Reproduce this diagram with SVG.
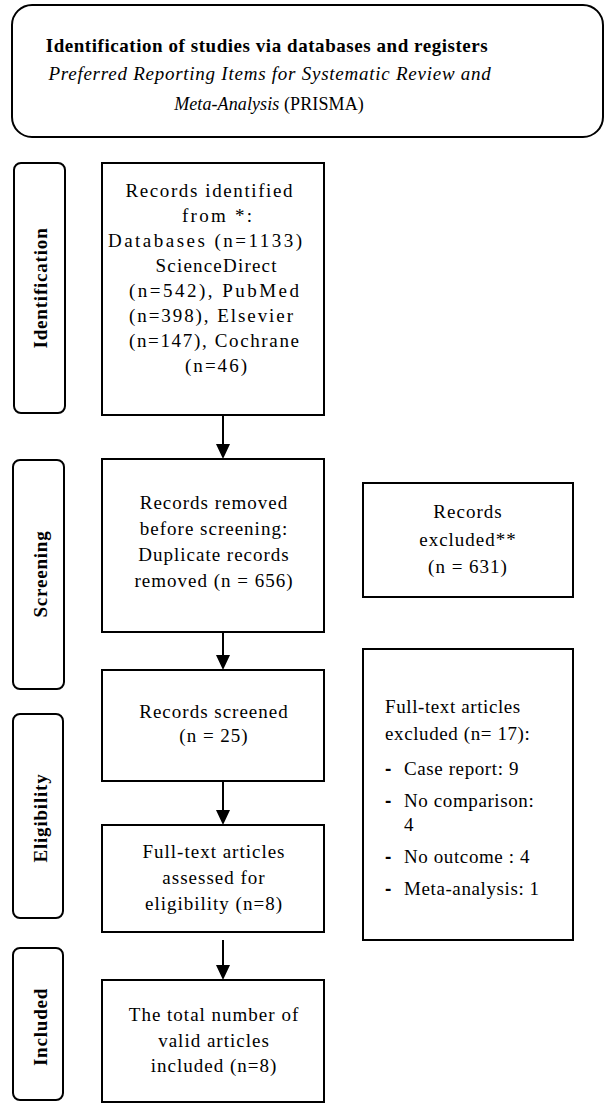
<svg xmlns="http://www.w3.org/2000/svg" width="604" height="1104" viewBox="0 0 604 1104">
<style>
.box{fill:#fff;stroke:#000;stroke-width:2}
.lbl{fill:#fff;stroke:#000;stroke-width:2}
.t{font-family:"Liberation Serif","Times New Roman",serif;font-size:19px;fill:#000;text-anchor:middle;letter-spacing:1px}
.tf{font-family:"Liberation Serif","Times New Roman",serif;font-size:19px;fill:#000;text-anchor:middle;letter-spacing:0px}
.tl{font-family:"Liberation Serif","Times New Roman",serif;font-size:19px;fill:#000;letter-spacing:0.6px}
.dash{font-family:"Liberation Sans",Arial,sans-serif;font-size:19px;font-weight:bold;fill:#000}
.side{font-family:"Liberation Serif","Times New Roman",serif;font-size:19px;font-weight:bold;fill:#000;text-anchor:middle;letter-spacing:0.8px}
.conn line{stroke:#000;stroke-width:2}
.conn polygon{fill:#000}
</style>
<rect width="604" height="1104" fill="#fff"/>

<g id="title">
<rect class="box" x="12" y="5" width="591" height="132" rx="20"/>
<text class="t" x="267" y="52" style="font-weight:bold;letter-spacing:0.55px">Identification of studies via databases and registers</text>
<text class="t" x="270" y="80" style="font-style:italic;letter-spacing:0.75px">Preferred Reporting Items for Systematic Review and</text>
<text class="tf" x="269" y="110" style="font-size:18px;letter-spacing:0.1px"><tspan font-style="italic">Meta-Analysis</tspan> (PRISMA)</text>
</g>

<g id="label-identification">
<rect class="lbl" x="14" y="163" width="51" height="250" rx="7"/>
<text class="side" transform="translate(47,288) rotate(-90)">Identification</text>
</g>
<g id="label-screening">
<rect class="lbl" x="13" y="460" width="51" height="229" rx="7"/>
<text class="side" transform="translate(47,574) rotate(-90)">Screening</text>
</g>
<g id="label-eligibility">
<rect class="lbl" x="13" y="714" width="50" height="204" rx="7"/>
<text class="side" transform="translate(47,818) rotate(-90)">Eligibility</text>
</g>
<g id="label-included">
<rect class="lbl" x="13" y="948" width="50" height="152" rx="7"/>
<text class="side" transform="translate(47,1027) rotate(-90)">Included</text>
</g>

<g id="node-identified">
<rect class="box" x="102" y="163" width="222" height="252"/>
<text class="tf" x="209" y="197" textLength="167">Records identified</text>
<text class="tf" x="217" y="222" textLength="70">from *:</text>
<text class="tf" x="205" y="247" textLength="194">Databases (n=1133)</text>
<text class="tf" x="216" y="272" textLength="121">ScienceDirect</text>
<text class="tf" x="214" y="297" textLength="170">(n=542), PubMed</text>
<text class="tf" x="211" y="322" textLength="164">(n=398), Elsevier</text>
<text class="tf" x="214" y="347" textLength="170">(n=147), Cochrane</text>
<text class="tf" x="216" y="372" textLength="62">(n=46)</text>
</g>

<g id="node-removed">
<rect class="box" x="102" y="459" width="222" height="173"/>
<text class="t" x="214" y="509">Records removed</text>
<text class="t" x="214" y="535">before screening:</text>
<text class="t" x="214" y="561">Duplicate records</text>
<text class="t" x="214" y="587">removed (n = 656)</text>
</g>

<g id="node-excluded">
<rect class="box" x="363" y="483" width="210" height="114"/>
<text class="t" x="468" y="518">Records</text>
<text class="t" x="468" y="546">excluded**</text>
<text class="t" x="468" y="573">(n = 631)</text>
</g>

<g id="node-screened">
<rect class="box" x="102" y="670" width="222" height="111"/>
<text class="t" x="214" y="718">Records screened</text>
<text class="t" x="214" y="742">(n = 25)</text>
</g>

<g id="node-fulltext-excluded">
<rect class="box" x="363" y="649" width="210" height="291"/>
<text class="tl" x="385" y="713">Full-text articles</text>
<text class="tl" x="385" y="740">excluded (n= 17):</text>
<text class="dash" x="385" y="775">-</text><text class="tl" x="404" y="775">Case report: 9</text>
<text class="dash" x="385" y="807">-</text><text class="tl" x="404" y="807">No comparison:</text>
<text class="tl" x="404" y="831">4</text>
<text class="dash" x="385" y="863">-</text><text class="tl" x="404" y="863">No outcome : 4</text>
<text class="dash" x="385" y="895">-</text><text class="tl" x="404" y="895">Meta-analysis: 1</text>
</g>

<g id="node-assessed">
<rect class="box" x="102" y="825" width="222" height="107"/>
<text class="t" x="214" y="858">Full-text articles</text>
<text class="t" x="214" y="884">assessed for</text>
<text class="t" x="214" y="910">eligibility (n=8)</text>
</g>

<g id="node-included">
<rect class="box" x="102" y="980" width="222" height="122"/>
<text class="t" x="214" y="1021">The total number of</text>
<text class="t" x="214" y="1047">valid articles</text>
<text class="t" x="214" y="1072">included (n=8)</text>
</g>

<g id="connectors" class="conn">
<line x1="223" y1="415" x2="223" y2="445"/><polygon points="216,444 230,444 223,459"/>
<line x1="223" y1="632" x2="223" y2="656"/><polygon points="216,655 230,655 223,670"/>
<line x1="223" y1="781" x2="223" y2="811"/><polygon points="216,810 230,810 223,825"/>
<line x1="223" y1="940" x2="223" y2="966"/><polygon points="216,965 230,965 223,980"/>
</g>
</svg>
